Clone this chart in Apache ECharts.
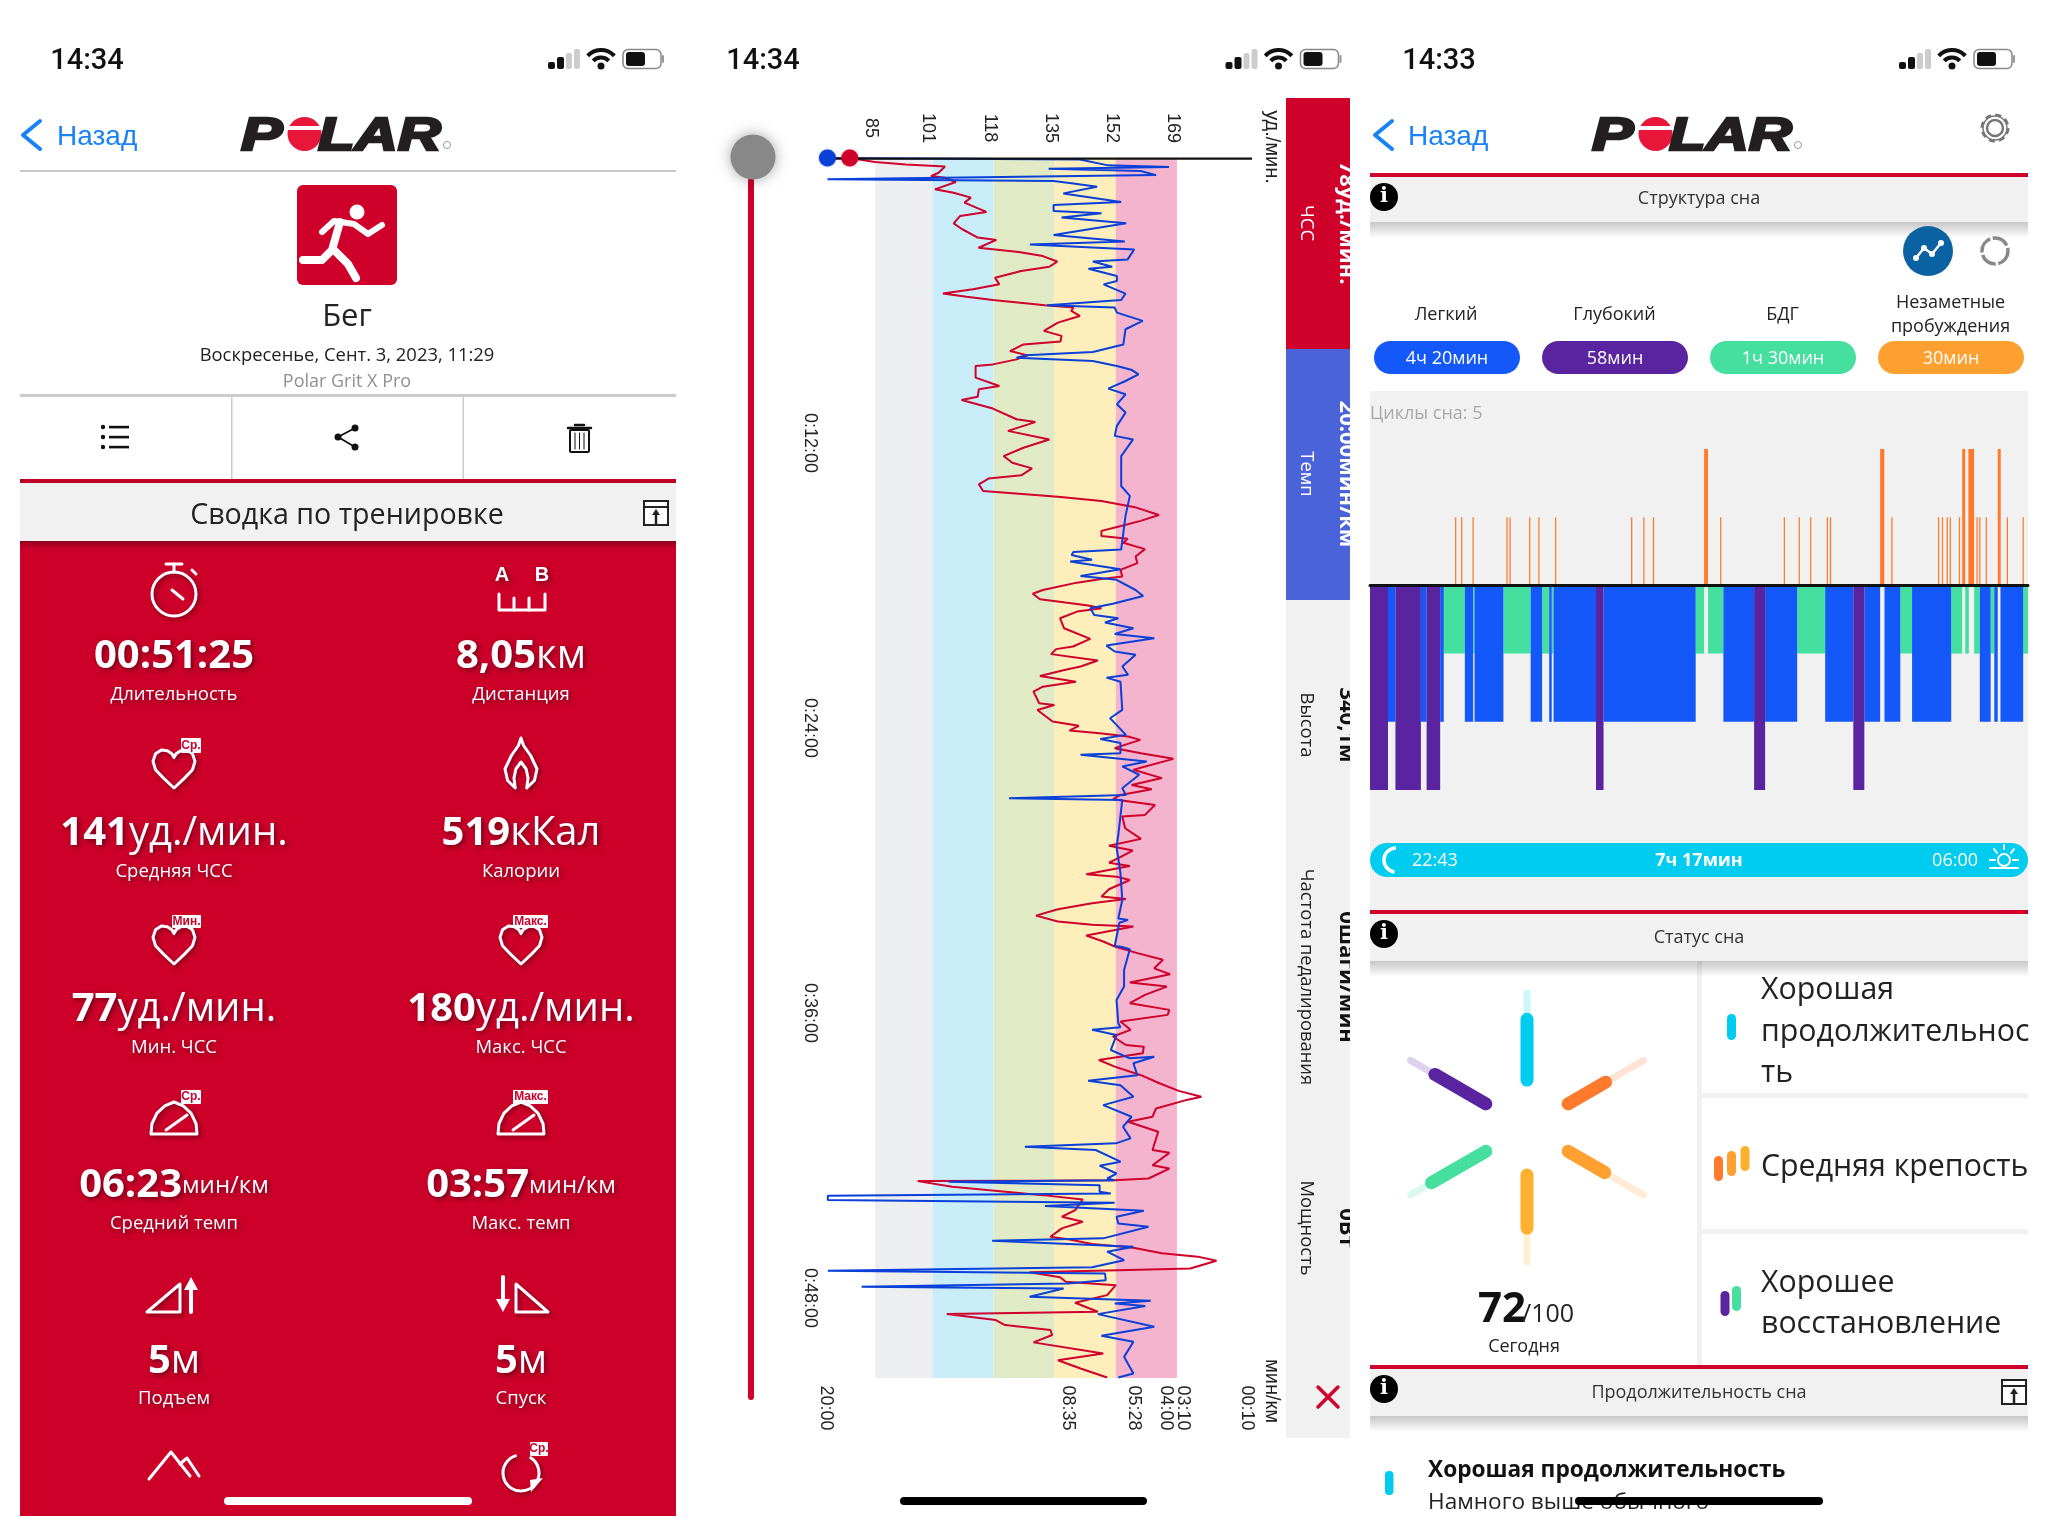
<!DOCTYPE html>
<html><head><meta charset="utf-8">
<style>html,body{margin:0;padding:0;background:#fff}#c{width:2048px;height:1536px}</style>
<script src="https://cdn.jsdelivr.net/npm/echarts@6/dist/echarts.min.js"></script>
</head><body><div id="c"></div>
<script>
// ---- training chart data ----
const hrTicks=[85,101,118,135,152,169];
const timeTicks=[12,24,36,48];
const trainingMinutes=51.37;
const paceTickPos=[71.4,138.8,157,165.9,170.7,188.5];
const paceTickLabels=['20:00','08:35','05:28','04:00','03:10','00:10'];
const hrTimes=[0,.17,.27,.36,.62,.76,.83,1.01,1.32,1.46,1.67,1.88,2.27,2.44,2.75,3,3.35,3.45,3.78,3.96,4.13,4.36,4.58,4.76,5.04,5.32,5.53,5.71,5.84,5.98,6.2,6.3,6.44,6.65,6.93,7.28,7.49,7.73,7.85,8.13,8.31,8.48,8.69,8.76,9.25,9.6,9.74,10.05,10.19,10.55,11,11.12,11.49,11.85,12.2,12.55,12.83,13.07,13.36,13.5,13.74,14.02,14.26,14.44,14.72,15.03,15.28,15.52,15.7,15.92,16.03,16.2,16.47,16.78,17.06,17.34,17.62,17.74,17.88,18.19,18.35,18.58,18.72,18.84,18.96,19.1,19.38,19.8,20.25,20.57,20.68,20.89,21.16,21.41,21.55,21.81,22.05,22.26,22.47,22.96,23.03,23.24,23.73,23.91,24.11,24.22,24.36,24.5,24.85,25.06,25.3,25.76,26.11,26.4,26.58,26.82,27,27.24,27.66,27.73,28.22,28.67,28.96,29.16,29.48,29.67,29.81,30.16,30.26,30.4,30.79,31.1,31.2,31.38,31.63,31.9,32.15,32.29,32.36,32.74,32.99,33.2,33.48,33.76,34.12,34.37,34.72,34.89,35.24,35.59,35.87,36.08,36.36,36.71,36.99,37.35,37.42,37.7,37.98,38.26,38.62,38.97,39.28,39.53,39.65,40.02,40.37,40.58,41,41.77,41.89,42.41,42.55,42.97,43.04,43.06,43.08,43.32,43.67,43.85,44.3,44.58,44.79,45.07,45.42,45.54,45.73,45.89,46.12,46.26,46.43,46.76,46.83,46.92,47.13,47.32,47.46,47.88,48.2,48.58,48.68,48.93,49.14,49.35,49.56,49.87,50.34,50.62,50.97,51.35];
const hrValues=[78,85,93.6,104.5,102.7,100.6,104.5,107.5,101.7,106.9,111.7,109.9,116,108.7,106.9,109.3,113.6,118.8,113.8,125,131.7,135.7,133.5,125.7,118.4,119.6,112.3,103.9,110.5,117.8,132.3,140.2,139.6,142,135.9,132,136.9,136.6,126.3,122.6,127.5,124.4,117.8,113,113,119.6,113.9,113.6,109.1,117.8,124.4,129.6,122,133.5,126.3,120.8,123.2,128.7,125.7,116.6,113.9,115.1,135.9,148,157.7,164,158.9,152.9,148,148,155.3,154.1,160.1,157.5,158,153.3,153.8,147.5,141.2,131.7,128.9,130.9,138,144.3,148,141.2,136.5,137.6,144.9,140.1,135.4,134,147,142.2,138,130.9,140.9,131.7,129.1,130.7,134.9,130.2,134.4,141.7,139.1,147.5,155.4,158.8,151.7,159,168,156.9,164.8,156.4,162,153.3,151.2,162.9,160.1,153.8,154.6,159,150.1,156.7,152.7,150.1,155.9,143.8,152.2,155.9,150.1,148,154.8,145.4,135.9,129.8,135.9,145.4,156.9,143.8,148.5,151.7,158,165.1,162.7,167.1,155.9,166.2,160.1,155.9,166.9,166.4,153.3,156.1,151.2,154.8,159.8,159.5,147.3,151.7,159,164.3,169.5,175.8,172,163.2,162.2,155.4,163.8,162.2,166.9,162.2,166.9,161.1,151.7,131.7,96.9,106.5,131.7,142.8,140.7,137,142.8,137,133.8,139.1,145.4,156.9,164.8,174.8,180,172.7,152.7,128,136.5,138.1,152,149.6,140.7,147,105,118.6,121.2,133.8,134.3,129.1,148.5,135.9,142.2,149.6];
const paceTimes=[0,.06,.31,.38,.45,.55,.72,.9,.97,1.07,1.21,1.49,1.85,1.98,2.23,2.33,2.51,2.75,3.24,3.52,3.64,3.85,4.27,4.36,4.58,4.66,4.97,5.18,5.32,5.71,5.98,6.2,6.3,6.51,6.86,7.21,7.85,8.17,8.31,8.41,8.55,8.76,8.93,9.11,9.39,9.71,9.95,10.37,10.72,11.28,11.7,11.85,12.55,13.81,14.23,15.07,15.78,16.48,16.59,16.72,16.92,16.99,17.32,17.6,17.76,18.19,18.44,18.77,18.96,19.24,19.38,19.56,19.8,20.04,20.22,20.53,20.78,20.92,21.41,21.76,21.88,22.05,23.24,23.59,23.87,24.29,24.46,24.63,25.06,25.13,25.41,25.62,25.97,26.54,26.82,26.96,27.03,28.5,29,30.11,31.24,32.02,32.08,32.2,33.18,33.22,33.32,34.19,34.89,35.45,36.43,36.6,36.71,36.93,37.56,37.91,37.84,38.12,38.62,38.85,39.04,39.53,39.88,40.37,40.79,41.28,41.49,41.63,41.77,42.26,42.43,42.76,42.97,43.04,43.11,43.25,43.53,43.6,43.7,43.88,43.99,44.13,44.33,44.58,44.86,45,45.49,45.59,45.84,46.05,46.41,46.71,46.85,46.97,47.25,47.39,47.53,47.6,47.95,48.12,48.23,48.34,48.68,49.21,49.59,49.84,50.48,51.18,51.35];
const paceValues=[71.8,142,149.9,166.8,133.3,158.9,163.2,71.8,134.7,140.2,146.8,137.4,153.5,134.7,134.7,148,136.9,154.9,134.7,154.5,128.1,157.1,155.3,145.6,151,144.4,152.3,152.3,148.6,154.7,153.5,132.9,151.7,152.3,159.5,154.7,154.1,145.6,126.9,124.4,145.6,152.3,156.5,158.3,154.7,149.9,154.7,152.3,154.7,152.3,151.7,156.8,153.5,153.5,155.9,154.7,154.1,153.5,140.2,139.7,145.4,139.3,153.3,142.2,152.2,157.5,159.6,151.2,144.9,146,152.7,149,156.9,151.7,162.7,149.4,151.7,157.5,153.8,155.4,149.4,153.3,153.8,150.4,152.2,154.8,147.7,153.3,153.3,142.2,160.6,153.8,158.5,153.8,154.8,122.3,153.8,152.7,152.2,153.3,153.8,152.7,155.4,153,151.7,153.8,155.9,154.3,154.3,152.2,152.7,153.3,145.4,152.2,150.6,155.9,162.7,156.9,158,144.3,153.3,156.9,148.5,156.4,154,156.1,152,126.7,146.4,153.3,147.5,152.2,149.6,151.7,105.5,147.5,147.5,150.6,71.9,71.9,151.7,132.3,159.8,152.2,152.7,161.1,148.5,117.6,156.9,149.6,154.3,145.4,71.9,149,149.2,138.6,81.3,137.5,128,161.7,151.7,160.2,147,162.7,148,156.9,154.3,156.9,152.7];
// ---- sleep chart data: minutes after 22:43 ----
const sleepMinutes=437;
const deepSpans=[[0,11.95],[16.9,33.8],[37.6,46.6],[150.1,155.1],[255.1,262.4],[321,328.3]];
const lightSpans=[[11.95,16.9],[33.8,37.6],[46.6,49],[63,68.5],[69.4,88.6],[106.7,114.3],[119,120.7],[121.9,150.1],[155.1,216.3],[234.7,255.1],[262.4,283.7],[302.3,321],[328.3,338.8],[341.7,352.2],[360,386],[405,412.2],[414.6,416.9],[418.7,433.8]];
const remSpans=[[49,63],[68.5,69.4],[88.6,106.7],[114.3,119],[120.7,121.9],[216.3,221.9],[224.5,234.7],[283.7,302.3],[352.2,360],[386,393.3],[395.3,397.7],[401.2,405],[412.2,414.6],[433.8,437]];
const shortWakeMinutes=[56.9,60.9,68.5,91,93,106.1,112.2,123.3,173.8,181.9,188.3,232.9,275.2,285.1,292.7,303.8,305.8,346.6,377.6,380.2,383.4,385.4,391.5,403.2,405,409.3,423.3,433.8];
const longWakeSpans=[[221.9,224.5],[338.8,341.6],[393.3,395.3],[397.4,401.2],[416.9,418.9]];
// ---- sleep status spokes ----
const spokeAngles=[0,60,120,180,240,300];
const spokeScores=[76,58,57,68,78,74];
const spokeColors=['#00ccf0','#ff7a2c','#ffa030','#ffb02e','#45dfa0','#5a24a0'];

const OS='"Open Sans"',LS='"Liberation Sans"';
const g=[];
function T(x,y,text,o={}){const size=o.size||18;const st={text,x:0,y:0,fill:o.color||'#222',fontSize:size,fontFamily:o.font||OS,fontWeight:o.weight||'normal',fontStyle:o.italic?'italic':'normal',align:o.align||'center',verticalAlign:'middle',textAlign:o.align||'center',textVerticalAlign:'middle'};
 if(o.rich)st.rich=o.rich;
 if(o.stroke){st.stroke=o.color;st.lineWidth=o.stroke;}
 if(o.shadow){st.textShadowColor='rgba(0,0,0,.45)';st.textShadowBlur=5;st.textShadowOffsetX=2;st.textShadowOffsetY=2;}
 const dy=(!o.rot&&(o.font||OS)===OS)?size*.1:0;
 g.push({type:'text',x,y:y+dy,rotation:o.rot||0,scaleX:o.sx||1,z:o.z||1,style:st});}
function R(x,y,w,h,fill,r,z){g.push({type:'rect',shape:{x,y,width:w,height:h,r:r||0},style:{fill},z:z||0});}
function L(pts,color,w,z){g.push({type:'polyline',shape:{points:pts},style:{stroke:color,lineWidth:w,fill:null,lineCap:'round',lineJoin:'round'},z:z||1});}
function C(cx,cy,r,fill,stroke,lw,z,extra){g.push({type:'circle',shape:{cx,cy,r},style:Object.assign({fill:fill||null,stroke:stroke||null,lineWidth:lw||1},extra||{}),z:z||1});}
function G(pts,x,y,w,h,style,z){g.push({type:'polygon',shape:{points:pts.map(p=>[x+p[0]*w,y+p[1]*h])},style,z:z||1});}
function shade(x,y,w,h){g.push({type:'rect',shape:{x,y,width:w,height:h},style:{fill:{type:'linear',x:0,y:0,x2:0,y2:1,colorStops:[{offset:0,color:'rgba(0,0,0,.22)'},{offset:1,color:'rgba(0,0,0,0)'}]}},z:1});}
function statusBar(ox,time,tx){T(tx,61.5,time,{size:29,font:'Roboto',color:'#111',weight:500});
 R(ox+548,62,7,7,'#111',2);R(ox+557,57,7,12,'#111',2);R(ox+566,53,6,16,'#ccc',2);R(ox+574,49,6,20,'#ccc',2);
 const wx=ox+601;g.push({type:'arc',shape:{cx:wx,cy:68,r:18,startAngle:-2.4,endAngle:-.74},style:{stroke:'#111',lineWidth:4,fill:null},z:1});
 g.push({type:'arc',shape:{cx:wx,cy:68,r:10.5,startAngle:-2.4,endAngle:-.74},style:{stroke:'#111',lineWidth:4,fill:null},z:1});C(wx,66,3.5,'#111');
 g.push({type:'rect',shape:{x:ox+623,y:49.5,width:38,height:19,r:5},style:{fill:'#fff',stroke:'#888',lineWidth:1.5},z:1});R(ox+626,52,19,14,'#111',3,2);R(ox+662,55,2,8,'#999',1,2);}
function logo(ox){const c=ox+304.5;
 T(ox+241,137,'P',{size:46,font:LS,weight:'bold',italic:true,color:'#231f20',align:'left',sx:1.35,stroke:2.5});
 C(c,134,17,'#e8173a');R(c-18,126,36,4,'#fff',0,2);
 T(ox+318,137,'LAR',{size:46,font:LS,weight:'bold',italic:true,color:'#231f20',align:'left',sx:1.3,stroke:2.5});
 C(ox+447,145,3.5,null,'#999',1);}
function back(ox,lx,cx1,cx2){L([[cx2,121],[cx1,135],[cx2,149]],'#1a82f7',4);T(lx,137,'Назад',{size:28,color:'#1a82f7',font:LS,align:'left'});}
function info(x,y){C(x,y,14,'#000');T(x,y,'i',{size:21,color:'#fff',weight:'bold',font:'"DejaVu Serif"',z:2});}
function upIcon(x,y){g.push({type:'rect',shape:{x:x-12,y:y-11,width:24,height:24},style:{fill:'#fff',stroke:'#222',lineWidth:2},z:1});L([[x-12,y-5],[x+12,y-5]],'#222',2);L([[x,y+12],[x,y+2]],'#222',2.5);g.push({type:'polygon',shape:{points:[[x-4,y+3],[x+4,y+3],[x,y-3]]},style:{fill:'#222'},z:2});}
function header(y,y2,title,dt){R(1370,y,658,4,'#d0022d',0,3);R(1370,y+4,658,y2-y-4,'#f1f1f1',0,1);shade(1370,y2,658,16);info(1384,y+24);T(1699,y+26-(dt||0),title,{size:18,color:'#333'});}

// ========== screen 1 ==========
statusBar(0,'14:34',87);back(0,57,23,40);logo(0);
R(20,170,656,2,'#c9c9c9');
R(297,185,100,100,'#cf0029',6);
C(357,212,7.5,'#fff');
L([[322,232],[334,221],[354,224],[368,234],[382,225]],'#fff',6);
L([[340,222],[332,250],[322,260],[303,260]],'#fff',8);
L([[334,250],[348,264],[356,278]],'#fff',8);
T(347,314,'Бег',{size:31});
T(347,354,'Воскресенье, Сент. 3, 2023, 11:29',{size:18.4,font:OS});
T(347,380,'Polar Grit X Pro',{size:18,color:'#909090'});
R(20,394,656,3,'#ccc');R(231,396,1.5,85,'#ccc');R(462.5,396,1.5,85,'#ccc');
[427,437,447].forEach(y=>{C(103,y,2.2,'#111');R(109,y-1.2,20,2.6,'#111');});
C(338,437,3.5,'#111');C(355,428,3.5,'#111');C(355,447,3.5,'#111');L([[355,428],[338,437],[355,447]],'#111',1.8);
g.push({type:'rect',shape:{x:570,y:430,width:19,height:22,r:1},style:{fill:'#fff',stroke:'#111',lineWidth:2},z:1});L([[568,428],[591,428]],'#111',2.5);L([[575,425],[584,425]],'#111',2.5);[575,579.5,584].forEach(x=>L([[x,433],[x,449]],'#111',1));
R(20,479,656,4,'#bf0026',0,2);R(20,483,656,58,'#f1f1f1');
T(347,513,'Сводка по тренировке',{size:28.6,color:'#222'});
upIcon(656,512);
R(20,541,656,975,'#cc0029');
g.push({type:'rect',shape:{x:20,y:541,width:656,height:8},style:{fill:{type:'linear',x:0,y:0,x2:0,y2:1,colorStops:[{offset:0,color:'rgba(0,0,0,.3)'},{offset:1,color:'rgba(0,0,0,0)'}]}},z:1});
const W='#fff';
const rs=(u)=>({a:{fontSize:40,fontWeight:'bold',fontFamily:OS,fill:W,textShadowColor:'rgba(0,0,0,.45)',textShadowBlur:5,textShadowOffsetX:2,textShadowOffsetY:2},b:{fontSize:u,fontFamily:OS,fill:W,textShadowColor:'rgba(0,0,0,.45)',textShadowBlur:5,textShadowOffsetX:2,textShadowOffsetY:2}});
const stats=[[174,653,693,'00:51:25','','Длительность',40],[521,653,693,'8,05','км','Дистанция',40],[174,830,870,'141','уд./мин.','Средняя ЧСС',40],[521,830,870,'519','кКал','Калории',40],[174,1006,1046,'77','уд./мин.','Мин. ЧСС',40],[521,1006,1046,'180','уд./мин.','Макс. ЧСС',40],[174,1182,1222,'06:23','мин/км','Средний темп',24],[521,1182,1222,'03:57','мин/км','Макс. темп',24],[174,1358,1397,'5','м','Подъем',40],[521,1358,1397,'5','м','Спуск',40]];
stats.forEach(s=>{T(s[0],s[1],'{a|'+s[3]+'}'+(s[4]?'{b|'+s[4]+'}':''),{rich:rs(s[6]),color:W,size:40});T(s[0],s[2],s[5],{size:18.5,color:W,shadow:true});});
const sh={shadowColor:'rgba(0,0,0,.4)',shadowBlur:4,shadowOffsetX:2,shadowOffsetY:2};
function S(o){return Object.assign({stroke:W,lineWidth:3,fill:null,lineCap:'round',lineJoin:'round'},sh,o||{});}
function badge(x,y,w,h,t){R(x,y,w,h,W,1,2);T(x+w/2,y+h/2,t,{size:12,color:'#cc0029',weight:'bold',font:LS,z:3});}
// stopwatch
C(174,594,22,null,W,3,1,S());L([[174,564],[174,572]],W,3);L([[166,564],[182,564]],W,3);L([[192,570],[196,574]],W,3);L([[172,590],[183,599]],W,3);
// ruler
T(502,575,'A',{size:20,color:W,weight:'bold',font:LS,shadow:true});T(542,575,'B',{size:20,color:W,weight:'bold',font:LS,shadow:true});
L([[499,594],[499,610],[545,610],[545,594]],W,3);L([[514,598],[514,610]],W,3);L([[529,598],[529,610]],W,3);
const heart=[[.5,1],[.25,.74],[.06,.52],[0,.3],[.06,.1],[.2,0],[.34,.02],[.45,.1],[.5,.2],[.55,.1],[.66,.02],[.8,0],[.94,.1],[1,.3],[.94,.52],[.75,.74]];
G(heart,153,750,42,38,S());badge(181,738,20,15,'Ср.');
G(heart,153,926,42,38,S());badge(172,915,29,13,'Мин.');
G(heart,500,926,42,38,S());badge(513,915,35,13,'Макс.');
G([[.5,0],[.58,.15],[.8,.35],[1,.62],[.92,.85],[.68,1],[.72,.8],[.66,.62],[.5,.48],[.34,.62],[.28,.8],[.32,1],[.08,.85],[0,.62],[.2,.35],[.42,.15]],505,738,32,50,S());
const gaugeShape=[[0,1],[.02,.68],[.13,.35],[.3,.12],[.5,0],[.7,.12],[.87,.35],[.98,.68],[1,1]];
function gauge(cx,y){G(gaugeShape,cx-23,y,46,32,S());L([[cx-8,y+28],[cx+13,y+13]],W,3);}
gauge(174,1102);badge(181,1090,20,14,'Ср.');gauge(521,1102);badge(513,1090,35,14,'Макс.');
g.push({type:'polygon',shape:{points:[[147,1312],[180,1312],[180,1284]]},style:S(),z:1});
L([[191,1312],[191,1285]],W,4);g.push({type:'polygon',shape:{points:[[184,1290],[198,1290],[191,1277]]},style:{fill:W},z:1});
g.push({type:'polygon',shape:{points:[[548,1312],[516,1312],[516,1284]]},style:S(),z:1});
L([[503,1277],[503,1304]],W,4);g.push({type:'polygon',shape:{points:[[496,1299],[510,1299],[503,1312]]},style:{fill:W},z:1});
L([[149,1479],[171,1452],[190,1476]],W,3);L([[180,1464],[187,1458],[199,1476]],W,3);
g.push({type:'arc',shape:{cx:521,cy:1473,r:18,startAngle:-1,endAngle:4.4},style:S(),z:1});g.push({type:'polygon',shape:{points:[[530,1480],[543,1478],[531,1492]]},style:{fill:W},z:1});badge(530,1442,18,14,'Ср.');
R(224,1497,248,8,'#fff',4,3);

// ========== screen 2 ==========
statusBar(677.5,'14:34',763);
C(753,157,22.5,'#888',null,0,4,{shadowColor:'rgba(0,0,0,.35)',shadowBlur:14});
R(748,178,6,1222,'#cf0029',3,3);
R(1286,98,64,1340,'#f1f1f1');R(1286,98,64,251,'#cf0029',0,1);R(1286,349,64,251,'#4b63d8',0,1);
const rot=-Math.PI/2;
[[223,'ЧСС','#fff'],[474,'Темп','#fff'],[725,'Высота','#222'],[977,'Частота педалирования','#222'],[1228,'Мощность','#222']].forEach(a=>T(1306,a[0],a[1],{size:18.4,color:a[2],rot,z:2}));
[[223,'78уд./мин.','#fff'],[474,'20:00мин/км','#fff'],[725,'340,1м','#111'],[977,'0шаги/мин','#111'],[1228,'0Вт','#111']].forEach(a=>T(1346,a[0],a[1],{size:22,color:a[2],weight:'bold',rot,z:2}));
R(1350,90,19,1360,'#fff',0,3);
L([[1318,1387],[1338,1407]],'#d0022d',3.5,4);L([[1338,1387],[1318,1407]],'#d0022d',3.5,4);
T(1272,147,'уд./мин.',{size:20,font:LS,color:'#222',rot});T(1272,1391,'мин/км',{size:20,font:LS,color:'#222',rot});
g.push({type:'line',shape:{x1:829,y1:158.6,x2:1252,y2:158.6},style:{stroke:'#111',lineWidth:2.2},z:60});
R(900,1497,247,8,'#000',4,3);

// ========== screen 3 ==========
statusBar(1351,'14:33',1439);back(1351,1408,1375,1392);logo(1351);
g.push({type:'circle',shape:{cx:1995,cy:128,r:8},style:{fill:null,stroke:'#777',lineWidth:2.5},z:1});C(1995,128,13,null,'#777',3,1,{lineDash:[6,4.2]});C(1995,128,12,null,'#777',1.5);
header(173,222,'Структура сна',2);
C(1928,251,25,'#0b62a3',null,0,3);L([[1916,258],[1924,248],[1932,254],[1941,243]],'#fff',2.5,4);[[1916,258],[1924,248],[1932,254],[1941,243]].forEach(p=>C(p[0],p[1],3,'#fff',null,0,4));
C(1995,251,13,null,'#888',3.5,3,{lineDash:[17,2.5]});
[[1446,313,'Легкий'],[1614.5,313,'Глубокий'],[1782.5,313,'БДГ'],[1950.5,301,'Незаметные'],[1950.5,325,'пробуждения']].forEach(a=>T(a[0],a[1],a[2],{size:18}));
[[1374,'#1558f9','4ч 20мин'],[1542,'#5a24a0','58мин'],[1710,'#45dfa0','1ч 30мин'],[1878,'#ffa030','30мин']].forEach(a=>{R(a[0],341,146,33,a[1],16.5,2);T(a[0]+73,357,a[2],{size:18,color:'#fff',z:3});});
R(1370,391,658,519,'#f1f1f1',0,1);
T(1370,412,'Циклы сна: 5',{size:18,color:'#a8a8a8',align:'left',z:2});
R(1370,843,658,34,'#00ccf0',17,2);
T(1412,859,'22:43',{size:18,color:'#fff',align:'left',z:3});T(1699,859,'7ч 17мин',{size:18,color:'#fff',weight:'bold',z:3});T(1978,859,'06:00',{size:18,color:'#fff',align:'right',z:3});
g.push({type:'arc',shape:{cx:1396,cy:860,r:12,startAngle:1.7,endAngle:4.7},style:{stroke:'#fff',lineWidth:3.5,fill:null},z:3});
g.push({type:'arc',shape:{cx:2004,cy:860,r:6,startAngle:0,endAngle:6.3},style:{stroke:'#fff',lineWidth:2,fill:null},z:3});
L([[1990,868],[2018,868]],'#fff',2,3);L([[2004,845],[2004,849]],'#fff',2,3);L([[1994,849],[1997,853]],'#fff',2,3);L([[2014,849],[2011,853]],'#fff',2,3);L([[1990,860],[1995,860]],'#fff',2,3);L([[2013,860],[2018,860]],'#fff',2,3);
header(910,961,'Статус сна');
R(1697,961,5,404,'#f1f1f1');R(1702,1093,326,5,'#f1f1f1');R(1702,1229,326,5,'#f1f1f1');
T(1478,1306,'72',{size:42,weight:'bold',color:'#111',align:'left',font:OS});T(1522,1312,'/100',{size:25,color:'#222',align:'left'});
T(1524,1345,'Сегодня',{size:18});
[[987,'Хорошая'],[1029,'продолжительнос'],[1070,'ть'],[1164,'Средняя крепость'],[1280,'Хорошее'],[1321,'восстановление']].forEach(a=>T(1761,a[0],a[1],{size:30.3,align:'left',color:'#222'}));
R(1727,1014,9,26,'#00ccf0',4.5);
R(1714,1156,9,25,'#ff7a2c',4.5);R(1727,1151,9,25,'#ffa030',4.5);R(1740.5,1146,9,25,'#ffb02e',4.5);
R(1720.5,1291,9,25,'#5a24a0',4.5);R(1732,1286,9,25,'#45dfa0',4.5);
header(1365,1416,'Продолжительность сна');
upIcon(2014,1391);
R(1385,1471,8.5,24,'#00ccf0',4);
T(1428,1468,'Хорошая продолжительность',{size:22.7,weight:'bold',color:'#111',align:'left'});
T(1428,1500,'Намного выше обычного',{size:22.6,color:'#222',align:'left'});
R(1575,1497,248,8,'#000',4,3);

const zoneEdges=hrTicks;
const zoneColors=['#eceef0','#c8edf8','#e0ebc5','#fdeebb','#f5b4cd'];
const zones=zoneColors.map((c,i)=>[{xAxis:zoneEdges[i],yAxis:0,itemStyle:{color:c}},{xAxis:zoneEdges[i+1],yAxis:trainingMinutes}]);
const zip=(a,b)=>a.map((v,i)=>[v,b[i]]);
function spans(arr,level,color){return {type:'custom',xAxisIndex:2,yAxisIndex:1,data:arr.map(s=>[s[0],s[1],level]),encode:{x:[0,1],y:2},z:level===-1?3:level===-2?4:level===-3?5:6,clip:false,
 renderItem:(p,api)=>{const a=api.coord([api.value(0),0]),b=api.coord([api.value(1),api.value(2)]);return {type:'rect',shape:{x:Math.min(a[0],b[0]),y:Math.min(a[1],b[1]),width:Math.abs(b[0]-a[0]),height:Math.abs(b[1]-a[1])},style:{fill:color}};}};}
const tickFont={fontFamily:LS,fontSize:18,color:'#222'};
const option={animation:false,backgroundColor:'#fff',graphic:{elements:g},
 grid:[{left:821,top:158,width:449.4,height:1220},{left:1370,top:449,width:658,height:341}],
 polar:{center:[1527,1127.6],radius:[0,138]},
 radiusAxis:{polarIndex:0,min:-42.3,max:100,show:false},
 angleAxis:{polarIndex:0,min:0,max:360,startAngle:90,clockwise:true,show:false},
 xAxis:[
  {type:'value',gridIndex:0,position:'top',min:70,max:195,splitLine:{show:false},axisLine:{show:false},axisTick:{show:false},
   axisLabel:Object.assign({rotate:-90,align:'center',verticalAlign:'top',lineHeight:8,margin:30,customValues:hrTicks},tickFont)},
  {type:'value',gridIndex:0,position:'bottom',min:70,max:195,splitLine:{show:false},axisLine:{show:false},axisTick:{show:false},
   axisLabel:Object.assign({rotate:-90,align:'center',verticalAlign:'middle',margin:30,customValues:paceTickPos,formatter:v=>paceTickLabels[paceTickPos.indexOf(v)]},tickFont)},
  {type:'value',gridIndex:1,min:0,max:sleepMinutes,splitLine:{show:false},axisTick:{show:false},axisLabel:{show:false},axisLine:{show:true,onZero:true,lineStyle:{color:'#111',width:3}},z:9}
 ],
 yAxis:[
  {type:'value',gridIndex:0,inverse:true,min:0,max:trainingMinutes,splitLine:{show:false},axisLine:{show:false},axisTick:{show:false},
   axisLabel:Object.assign({rotate:-90,align:'center',verticalAlign:'middle',margin:11,customValues:timeTicks,formatter:v=>'0:'+v+':00'},tickFont)},
  {type:'value',gridIndex:1,min:-3,max:2,show:false}
 ],
 series:[
  {type:'line',name:'ЧСС',xAxisIndex:0,yAxisIndex:0,data:zip(hrValues,hrTimes),showSymbol:false,clip:false,lineStyle:{color:'#d0002d',width:2},z:3,
   markArea:{silent:true,data:zones}},
  {type:'line',name:'Темп',xAxisIndex:1,yAxisIndex:0,data:zip(paceValues,paceTimes),showSymbol:false,clip:false,lineStyle:{color:'#0a3fd8',width:2},z:4},
  {type:'scatter',xAxisIndex:0,yAxisIndex:0,data:[[hrValues[0],0]],symbolSize:17,itemStyle:{color:'#d0002d',opacity:1,borderColor:'rgba(208,0,45,.2)',borderWidth:2},clip:false,z:70},
  {type:'scatter',xAxisIndex:1,yAxisIndex:0,data:[[paceValues[0],0]],symbolSize:17,itemStyle:{color:'#0a3fd8',opacity:1,borderColor:'rgba(10,63,216,.2)',borderWidth:2},clip:false,z:70},
  spans(remSpans,-1,'#45dfa0'),spans(lightSpans,-2,'#1558f9'),spans(deepSpans,-3,'#5a24a0'),
  spans(shortWakeMinutes.map(m=>[m-.42,m+.42]),1,'#ff7a2c'),spans(longWakeSpans,2,'#ff7a2c'),
  {type:'custom',coordinateSystem:'polar',polarIndex:0,data:spokeAngles.map((a,i)=>[spokeScores[i],a,i]),encode:{radius:0,angle:1},z:5,
   renderItem:(p,api)=>{const s=api.value(0),a=api.value(1),i=api.value(2),o=api.coord([6.7,a]),m=api.coord([s-6.7,a]),e=api.coord([96.4,a]),b=api.coord([s,a]);
    return {type:'group',children:[
     {type:'line',shape:{x1:b[0],y1:b[1],x2:e[0],y2:e[1]},style:{stroke:spokeColors[i],opacity:.2,lineWidth:7,lineCap:'round'}},
     {type:'line',shape:{x1:o[0],y1:o[1],x2:m[0],y2:m[1]},style:{stroke:spokeColors[i],lineWidth:13,lineCap:'round'}}]};}}
 ]};
const chart=echarts.init(document.getElementById('c'),null,{renderer:'canvas',width:2048,height:1536});
chart.setOption(option);
</script></body></html>
